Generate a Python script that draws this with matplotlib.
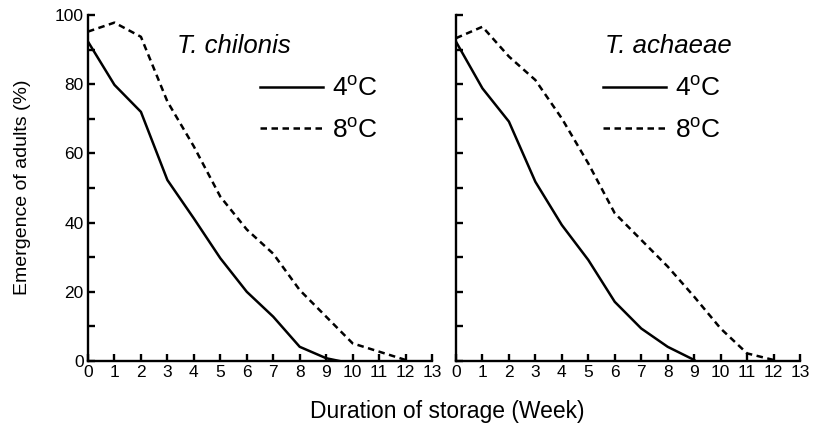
import matplotlib
matplotlib.use("Agg")
import matplotlib.pyplot as plt

plt.rcParams["font.family"] = ["Liberation Sans", "DejaVu Sans"]

weeks = list(range(0, 14))

# T. chilonis
chil_weeks_4 = [0, 1, 2, 3, 4, 5, 6, 7, 8, 9, 9.5]
chil_4c = [92.3, 79.8, 72.0, 52.3, 41.2, 29.7, 20.0, 12.8, 4.1, 0.8, 0.0]
chil_weeks_8 = [0, 1, 2, 3, 4, 5, 6, 7, 8, 9, 10, 11, 12]
chil_8c = [95.2, 97.8, 93.7, 75.0, 62.0, 47.5, 38.0, 31.0, 20.5, 12.8, 5.1, 2.7, 0.3]

# T. achaeae
acha_weeks_4 = [0, 1, 2, 3, 4, 5, 6, 7, 8, 9]
acha_4c = [92.3, 78.8, 69.2, 51.8, 39.3, 29.2, 17.1, 9.4, 4.1, 0.3]
acha_weeks_8 = [0, 1, 2, 3, 4, 5, 6, 7, 8, 9, 10, 11, 12]
acha_8c = [93.3, 96.6, 88.0, 81.2, 70.1, 57.1, 42.7, 35.0, 27.3, 18.6, 9.4, 2.2, 0.3]

species = ["T. chilonis", "T. achaeae"]
temp_labels = ["4$^\\mathregular{o}$C", "8$^\\mathregular{o}$C"]

fig = plt.figure(figsize=(8.17, 4.26), dpi=100)
ax1 = fig.add_axes([0.1077, 0.1526, 0.4211, 0.8122])
ax2 = fig.add_axes([0.5581, 0.1526, 0.4211, 0.8122])

# (axes, data..., species name, x of name, x of legend)
panels = [
    (ax1, chil_weeks_4, chil_4c, chil_weeks_8, chil_8c, species[0], 0.259, 0.50),
    (ax2, acha_weeks_4, acha_4c, acha_weeks_8, acha_8c, species[1], 0.433, 0.427),
]

for ax, w4, y4, w8, y8, name, name_x, leg_x in panels:
    l4, = ax.plot(w4, y4, color="black", lw=1.8, solid_joinstyle="round")
    l8, = ax.plot(w8, y8, color="black", lw=1.8, ls=(0, (2.6, 1.8)))
    ax.set_xlim(0, 13)
    ax.set_ylim(0, 100)
    ax.set_xticks(weeks)
    ax.set_yticks(range(0, 101, 10))
    ax.spines["top"].set_visible(False)
    ax.spines["right"].set_visible(False)
    ax.spines["left"].set_linewidth(1.7)
    ax.spines["bottom"].set_linewidth(1.7)
    ax.tick_params(direction="in", length=5, width=1.7, labelsize=12.5, pad=3)
    ax.text(name_x, 0.89, name, transform=ax.transAxes, style="italic",
            fontsize=18.5, va="baseline", ha="left")
    ax.legend([l4, l8], temp_labels, loc="upper left",
              bbox_to_anchor=(leg_x, 0.823), frameon=False, fontsize=19,
              handlelength=2.4, handletextpad=0.34, labelspacing=0.64,
              borderaxespad=0, borderpad=0)

ax1.set_yticklabels([str(v) if v % 20 == 0 else "" for v in range(0, 101, 10)])
ax2.set_yticklabels([])
fig.text(0.027, 0.56, "Emergence of adults (%)", rotation=90,
         ha="center", va="center", fontsize=14)
fig.text(0.547, 0.019, "Duration of storage (Week)", ha="center",
         va="baseline", fontsize=16.5)

fig.savefig("out.png", dpi=100)
